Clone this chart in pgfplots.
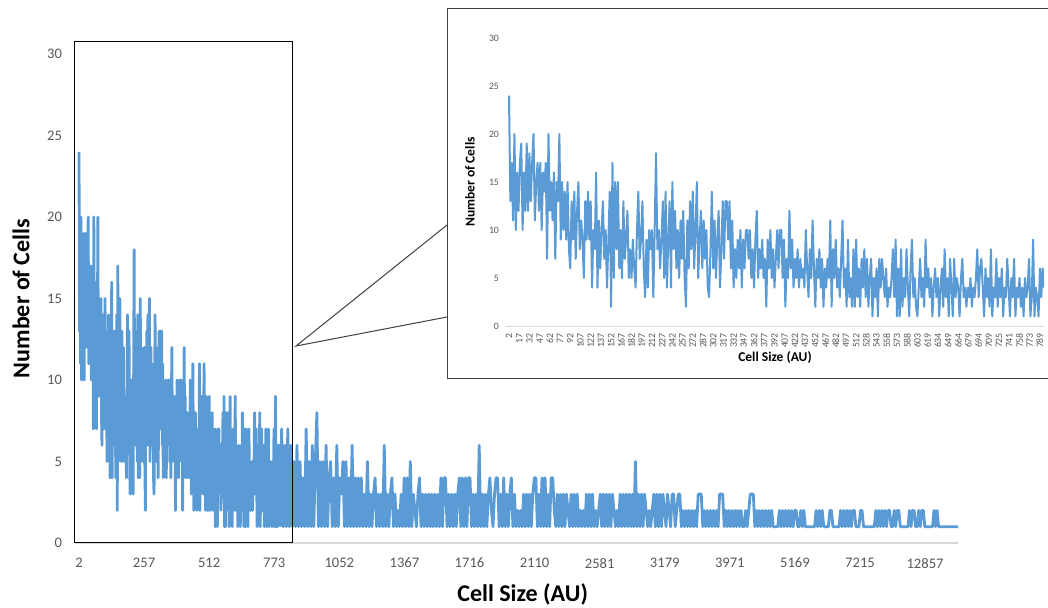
\documentclass[border=0pt]{standalone}
\usepackage{fontspec}
\setmainfont{Carlito}
\usepackage{pgfplots}
\pgfplotsset{compat=1.18}
\usepackage{pgfplotstable}
\definecolor{lineblue}{HTML}{5B9BD5}
\definecolor{labelgray}{HTML}{595959}
\definecolor{axisgray}{HTML}{D9D9D9}
\definecolor{framegray}{HTML}{404040}

% first 787 size classes (every second class), used in the inset and in the main chart
\pgfplotstableread[row sep=\\]{y\\
24\\13\\17\\11\\20\\10\\16\\12\\17\\19\\10\\16\\12\\19\\12\\18\\13\\17\\20\\11\\15\\
17\\12\\17\\10\\16\\14\\17\\7\\20\\12\\15\\11\\16\\7\\15\\13\\20\\9\\15\\
10\\14\\9\\15\\8\\6\\13\\9\\14\\7\\12\\15\\8\\11\\9\\5\\13\\9\\
14\\9\\13\\4\\10\\8\\16\\4\\11\\6\\10\\13\\7\\10\\4\\9\\14\\2\\17\\
5\\15\\8\\15\\6\\10\\5\\13\\7\\9\\12\\5\\8\\5\\9\\6\\4\\10\\14\\7\\
9\\13\\6\\3\\9\\4\\10\\8\\10\\3\\10\\18\\8\\10\\6\\9\\13\\5\\14\\4\\9\\13\\4\\15\\8\\12\\6\\10\\5\\11\\7\\12\\5\\
2\\11\\6\\13\\8\\14\\6\\10\\15\\5\\9\\12\\6\\11\\7\\10\\4\\3\\8\\14\\6\\
11\\5\\9\\12\\4\\8\\13\\7\\13\\13\\9\\13\\6\\11\\4\\8\\5\\9\\6\\10\\
4\\9\\6\\10\\10\\7\\10\\5\\8\\4\\9\\12\\5\\8\\6\\9\\5\\7\\2\\9\\
6\\10\\5\\8\\4\\7\\10\\6\\10\\10\\5\\9\\2\\7\\5\\12\\6\\9\\4\\7\\
5\\8\\4\\7\\5\\6\\4\\10\\6\\3\\8\\5\\11\\6\\2\\7\\5\\8\\4\\7\\
2\\6\\4\\7\\5\\11\\2\\8\\5\\9\\4\\6\\3\\7\\11\\4\\6\\2\\9\\3\\5\\2\\8\\2\\9\\3\\6\\2\\7\\4\\
8\\3\\7\\2\\5\\7\\1\\5\\3\\6\\1\\7\\4\\7\\5\\3\\6\\2\\4\\3\\
5\\8\\3\\9\\1\\6\\1\\8\\2\\5\\3\\8\\4\\1\\6\\9\\3\\5\\2\\1\\
4\\7\\3\\5\\2\\9\\4\\6\\3\\5\\1\\4\\6\\3\\5\\1\\4\\6\\2\\8\\
3\\5\\1\\7\\4\\1\\7\\3\\5\\4\\1\\5\\7\\3\\4\\2\\4\\3\\5\\2\\
4\\3\\5\\8\\3\\6\\7\\4\\1\\6\\3\\5\\2\\8\\1\\4\\3\\7\\2\\5\\
3\\6\\1\\4\\3\\7\\4\\1\\5\\3\\7\\1\\4\\3\\5\\2\\4\\1\\5\\3\\4\\7\\1\\3\\9\\1\\4\\3\\1\\6\\3\\6\\4\\
}\insetdata

% remaining size classes (every sixth class from class 788 on)
\pgfplotstableread[row sep=\\]{y\\
1\\7\\1\\6\\1\\7\\1\\6\\1\\5\\1\\6\\1\\5\\1\\4\\1\\7\\1\\5\\1\\6\\1\\5\\8\\1\\5\\1\\5\\
1\\6\\1\\4\\5\\1\\4\\1\\6\\1\\4\\3\\5\\1\\5\\1\\4\\1\\6\\1\\4\\1\\
4\\1\\4\\1\\3\\1\\5\\1\\3\\1\\3\\4\\1\\3\\1\\3\\1\\6\\1\\3\\1\\3\\
4\\1\\3\\1\\2\\1\\3\\1\\4\\1\\4\\1\\5\\1\\3\\2\\1\\3\\4\\1\\3\\
1\\3\\1\\3\\1\\3\\1\\3\\1\\3\\1\\4\\1\\4\\4\\1\\3\\1\\3\\1\\3\\1\\
3\\4\\1\\4\\1\\4\\1\\4\\4\\1\\3\\1\\3\\1\\6\\1\\3\\1\\3\\1\\3\\4\\
2\\1\\3\\4\\4\\1\\3\\1\\4\\1\\3\\1\\3\\4\\1\\3\\1\\2\\1\\2\\1\\
3\\1\\3\\1\\3\\1\\3\\4\\4\\1\\3\\1\\4\\1\\4\\1\\3\\1\\4\\4\\2\\1\\
3\\1\\3\\1\\3\\1\\3\\2\\1\\3\\1\\3\\1\\3\\1\\2\\1\\2\\1\\3\\1\\3\\
1\\3\\1\\2\\1\\2\\3\\1\\3\\1\\3\\1\\3\\1\\3\\2\\1\\2\\1\\3\\1\\3\\1\\3\\1\\3\\1\\3\\1\\5\\1\\3\\1\\3\\1\\3\\2\\1\\2\\1\\2\\3\\1\\3\\1\\3\\
1\\3\\2\\1\\3\\2\\1\\3\\3\\1\\2\\3\\3\\1\\2\\1\\2\\1\\2\\1\\2\\1\\2\\1\\3\\3\\3\\1\\2\\1\\2\\1\\2\\1\\2\\1\\2\\1\\3\\3\\3\\1\\2\\1\\2\\1\\2\\1\\2\\1\\2\\1\\2\\1\\1\\2\\1\\2\\3\\3\\3\\1\\2\\1\\2\\1\\2\\1\\2\\1\\2\\1\\2\\1\\
1\\1\\1\\2\\1\\2\\1\\2\\1\\2\\1\\2\\1\\2\\2\\1\\1\\2\\1\\2\\1\\1\\1\\1\\1\\1\\1\\2\\1\\2\\1\\2\\1\\1\\1\\1\\2\\2\\1\\1\\1\\1\\1\\2\\1\\2\\1\\2\\1\\2\\1\\2\\2\\1\\1\\1\\2\\2\\1\\1\\1\\1\\1\\1\\1\\1\\2\\1\\2\\1\\2\\1\\2\\1\\2\\2\\1\\1\\2\\1\\2\\2\\1\\1\\1\\1\\1\\1\\2\\1\\2\\2\\1\\1\\2\\1\\2\\2\\1\\1\\1\\1\\1\\1\\2\\1\\2\\1\\1\\1\\1\\1\\1\\1\\1\\1\\1\\1\\1\\1\\1\\
}\taildata

\begin{document}
\begin{tikzpicture}
\path[use as bounding box] (0pt,0pt) rectangle (524pt,-303.5pt);

% main chart
\begin{axis}[
  at={(37.5pt,-271.5pt)}, anchor=south west,
  width=441.5pt, height=244.5pt, scale only axis,
  xmin=-15.7, xmax=3444, ymin=0, ymax=30,
  axis x line*=bottom, axis y line*=left,
  x axis line style={draw=axisgray, line width=0.6pt, -},
  y axis line style={draw=none},
  xtick={0,255,510,765,1020,1275,1530,1785,2040,2295,2550,2805,3060,3315},
  xticklabels={2,257,512,773,1052,1367,1716,2110,2581,3179,3971,5169,7215,12857},
  ytick={0,5,10,15,20,25,30},
  major tick length=0pt,
  tick label style={font=\fontsize{7.3}{8}\selectfont, text=labelgray},
  /pgf/number format/assume math mode=true,
  xticklabel style={yshift=-4pt},
  yticklabel style={xshift=-3pt},
  xlabel={Cell Size (AU)}, ylabel={Number of Cells},
  label style={font=\bfseries\fontsize{12}{14}\selectfont},
  xlabel style={at={(axis description cs:0.507,-0.106)}, anchor=center},
  ylabel style={at={(axis description cs:-0.0612,0.5)}, anchor=center},
]
\addplot[lineblue, line width=1.4pt, line join=round, no markers]
  table[x expr=2*\coordindex, y=y]{\insetdata};
\addplot[lineblue, line width=1.4pt, line join=round, no markers]
  table[x expr=788+6*\coordindex, y=y]{\taildata};
\end{axis}

\draw[black, line width=0.5pt] (37pt,-20.5pt) rectangle (146pt,-271pt);
\draw[framegray, line width=0.5pt] (223.5pt,-112.5pt) -- (148pt,-173pt) -- (223.5pt,-158.5pt);
\draw[framegray, line width=0.9pt] (223.75pt,-4.25pt) rectangle (524.5pt,-189.25pt);

% inset
\begin{axis}[
  at={(253pt,-163pt)}, anchor=south west,
  width=269pt, height=144pt, scale only axis,
  xmin=-4.4, xmax=786, ymin=0, ymax=30,
  axis x line*=bottom, axis y line*=left,
  x axis line style={draw=axisgray, line width=0.5pt, -},
  y axis line style={draw=none},
  xtick={0,15,30,45,60,75,90,105,120,135,150,165,180,195,210,225,240,255,270,285,300,315,330,345,360,375,390,405,420,435,450,465,480,495,510,525,540,555,570,585,600,615,630,645,660,675,690,705,720,735,750,765,780},
  xticklabels={2,17,32,47,62,77,92,107,122,137,152,167,182,197,212,227,242,257,272,287,302,317,332,347,362,377,392,407,422,437,452,467,482,497,512,528,543,558,573,588,603,619,634,649,664,679,694,709,725,741,758,773,789},
  ytick={0,5,10,15,20,25,30},
  major tick length=0pt,
  tick label style={font=\fontsize{4.9}{5.5}\selectfont, text=labelgray},
  /pgf/number format/assume math mode=true,
  xticklabel style={rotate=90, anchor=east},
  xlabel={Cell Size (AU)}, ylabel={Number of Cells},
  label style={font=\bfseries\fontsize{6.75}{8}\selectfont},
  xlabel style={at={(axis description cs:0.5,-0.111)}, anchor=center},
  ylabel style={at={(axis description cs:-0.0669,0.5)}, anchor=center},
]
\addplot[lineblue, line width=1pt, line join=round, no markers]
  table[x expr=2*\coordindex, y=y]{\insetdata};
\end{axis}
\end{tikzpicture}
\end{document}
